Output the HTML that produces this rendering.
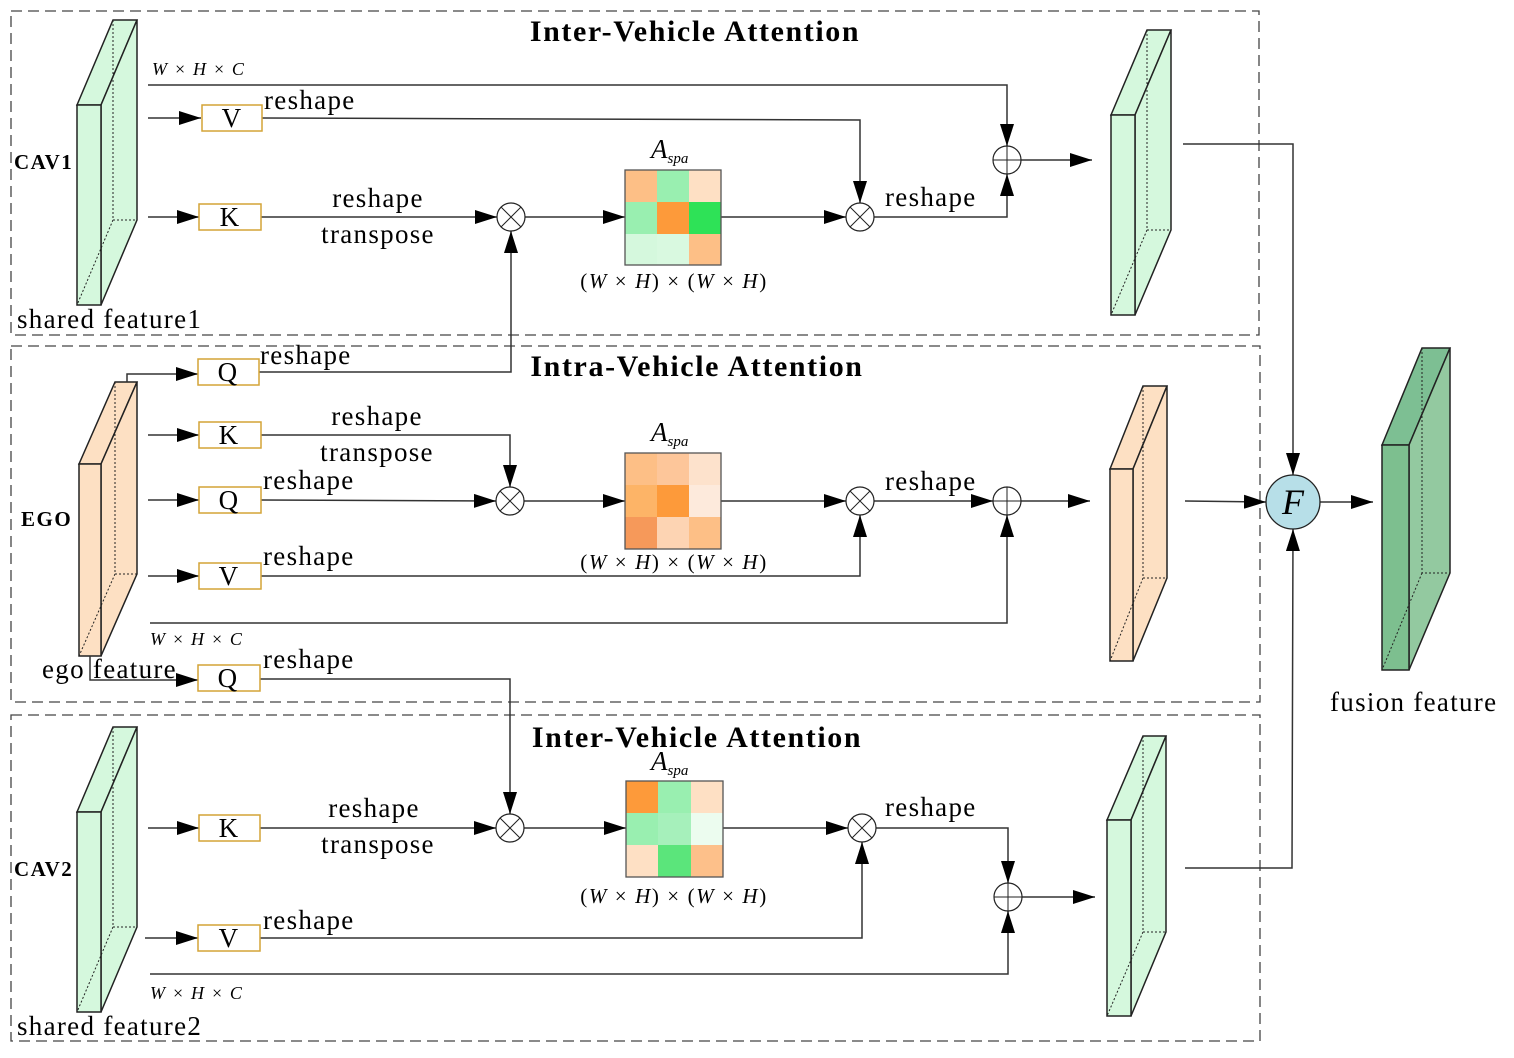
<!DOCTYPE html>
<html><head><meta charset="utf-8"><style>
html,body{margin:0;padding:0;background:#fff;}
svg{display:block;}
text{font-family:"Liberation Serif",serif;fill:#000;}
.t{font-size:27px;letter-spacing:1.3px;}
.b{font-size:30px;font-weight:bold;letter-spacing:1.6px;}
.m{font-size:18px;font-style:italic;letter-spacing:1.2px;}
.ln{stroke:#333;stroke-width:1.5;fill:none;}
.box{fill:#fff;stroke:#d4a437;stroke-width:1.5;}
.dsh{fill:none;stroke:#444;stroke-width:1.3;stroke-dasharray:11,6;}
.op{fill:#fff;stroke:#222;stroke-width:1.2;}
.dim{font-size:21px;letter-spacing:1.6px;}
</style></head><body>
<svg width="1514" height="1058" viewBox="0 0 1514 1058" xmlns="http://www.w3.org/2000/svg">
<defs>
<marker id="a" markerUnits="userSpaceOnUse" markerWidth="22" markerHeight="14" refX="22" refY="7" orient="auto"><path d="M0,0 L22,7 L0,14 Z" fill="#000"/></marker>
</defs>

<rect class="dsh" x="11" y="11" width="1248" height="324"/>
<rect class="dsh" x="11" y="346" width="1249" height="356"/>
<rect class="dsh" x="11" y="715" width="1249" height="326"/>

<text class="b" x="695" y="41" text-anchor="middle">Inter-Vehicle Attention</text>
<text class="b" x="697" y="376" text-anchor="middle">Intra-Vehicle Attention</text>
<text class="b" x="697" y="747" text-anchor="middle">Inter-Vehicle Attention</text>

<g stroke="#222" stroke-width="1.5">
<polygon points="77,105 113,20 137,20 101,105" fill="#d5f8dd"/>
<polygon points="101,105 137,20 137,220 101,305" fill="#d5f8dd"/>
<rect x="77" y="105" width="24" height="200" fill="#d5f8dd"/>
<polygon points="1111,115 1147,30 1171,30 1135,115" fill="#d5f8dd"/>
<polygon points="1135,115 1171,30 1171,230 1135,315" fill="#d5f8dd"/>
<rect x="1111" y="115" width="24" height="200" fill="#d5f8dd"/>
<polygon points="79,464 115,382 137,382 101,464" fill="#fde0c3"/>
<polygon points="101,464 137,382 137,574 101,656" fill="#fde0c3"/>
<rect x="79" y="464" width="22" height="192" fill="#fde0c3"/>
<polygon points="1110,469 1143,386 1167,386 1133,469" fill="#fde0c3"/>
<polygon points="1133,469 1167,386 1167,578 1133,661" fill="#fde0c3"/>
<rect x="1110" y="469" width="23" height="192" fill="#fde0c3"/>
<polygon points="77,812 113,727 137,727 101,812" fill="#d5f8dd"/>
<polygon points="101,812 137,727 137,927 101,1012" fill="#d5f8dd"/>
<rect x="77" y="812" width="24" height="200" fill="#d5f8dd"/>
<polygon points="1107,820 1143,736 1166,736 1131,820" fill="#d5f8dd"/>
<polygon points="1131,820 1166,736 1166,932 1131,1016" fill="#d5f8dd"/>
<rect x="1107" y="820" width="24" height="196" fill="#d5f8dd"/>
<polygon points="1382,445 1422,348 1450,348 1409,445" fill="#7dbf93"/>
<polygon points="1409,445 1450,348 1450,573 1409,670" fill="#93c9a0"/>
<rect x="1382" y="445" width="27" height="225" fill="#7dbf8f"/>
</g>
<g stroke="#222" stroke-width="1" stroke-dasharray="2,2" fill="none">
<path d="M113,20 V220 H137 M113,220 L77,305"/>
<path d="M1147,30 V230 H1171 M1147,230 L1111,315"/>
<path d="M115,382 V574 H137 M115,574 L79,656"/>
<path d="M1143,386 V578 H1167 M1143,578 L1110,661"/>
<path d="M113,727 V927 H137 M113,927 L77,1012"/>
<path d="M1143,736 V932 H1166 M1143,932 L1107,1016"/>
<path d="M1422,348 V573 H1450 M1422,573 L1382,670"/>
</g>

<path class="ln" d="M148,85 H1007 V146" marker-end="url(#a)"/>
<path class="ln" d="M148,118 H201" marker-end="url(#a)"/>
<path class="ln" d="M262,118 L860,120 V203" marker-end="url(#a)"/>
<path class="ln" d="M148,217 H199" marker-end="url(#a)"/>
<path class="ln" d="M261,217 H497" marker-end="url(#a)"/>
<path class="ln" d="M525,217 H625" marker-end="url(#a)"/>
<path class="ln" d="M721,217 H846" marker-end="url(#a)"/>
<path class="ln" d="M874,217 H1007 V174" marker-end="url(#a)"/>
<path class="ln" d="M1021,160 H1092" marker-end="url(#a)"/>
<path class="ln" d="M1183,144 H1293 V475" marker-end="url(#a)"/>
<path class="ln" d="M127,382 V374 H198" marker-end="url(#a)"/>
<path class="ln" d="M259,372 H511 V231" marker-end="url(#a)"/>

<path class="ln" d="M148,435 H199" marker-end="url(#a)"/>
<path class="ln" d="M261,435 H510 V487" marker-end="url(#a)"/>
<path class="ln" d="M148,500 H199" marker-end="url(#a)"/>
<path class="ln" d="M261,500 L496,501" marker-end="url(#a)"/>
<path class="ln" d="M524,501 H625" marker-end="url(#a)"/>
<path class="ln" d="M721,501 H846" marker-end="url(#a)"/>
<path class="ln" d="M874,501 H993" marker-end="url(#a)"/>
<path class="ln" d="M1021,501 H1090" marker-end="url(#a)"/>
<path class="ln" d="M148,576 H199" marker-end="url(#a)"/>
<path class="ln" d="M261,576 H860 V515" marker-end="url(#a)"/>
<path class="ln" d="M150,623 H1007 V515" marker-end="url(#a)"/>
<path class="ln" d="M1185,501 L1266,502" marker-end="url(#a)"/>
<path class="ln" d="M1320,502 H1373" marker-end="url(#a)"/>

<path class="ln" d="M90,656 V680 H198" marker-end="url(#a)"/>
<path class="ln" d="M260,679 H510 V814" marker-end="url(#a)"/>
<path class="ln" d="M148,828 H199" marker-end="url(#a)"/>
<path class="ln" d="M260,828 H496" marker-end="url(#a)"/>
<path class="ln" d="M524,828 H626" marker-end="url(#a)"/>
<path class="ln" d="M723,828 H848" marker-end="url(#a)"/>
<path class="ln" d="M876,828 H1008 V883" marker-end="url(#a)"/>
<path class="ln" d="M145,938 H198" marker-end="url(#a)"/>
<path class="ln" d="M260,938 H862 V842" marker-end="url(#a)"/>
<path class="ln" d="M150,974 H1008 V911" marker-end="url(#a)"/>
<path class="ln" d="M1022,897 H1095" marker-end="url(#a)"/>
<path class="ln" d="M1185,868 H1292 L1293,529" marker-end="url(#a)"/>

<g>
<rect class="box" x="202" y="105" width="60" height="26"/><text class="t" x="232" y="127" text-anchor="middle">V</text>
<rect class="box" x="199" y="204" width="62" height="26"/><text class="t" x="230" y="226" text-anchor="middle">K</text>
<rect class="box" x="198" y="359" width="61" height="26"/><text class="t" x="228" y="381" text-anchor="middle">Q</text>
<rect class="box" x="199" y="422" width="62" height="26"/><text class="t" x="229" y="444" text-anchor="middle">K</text>
<rect class="box" x="199" y="487" width="62" height="26"/><text class="t" x="229" y="509" text-anchor="middle">Q</text>
<rect class="box" x="199" y="563" width="62" height="26"/><text class="t" x="229" y="585" text-anchor="middle">V</text>
<rect class="box" x="198" y="665" width="62" height="26"/><text class="t" x="228" y="687" text-anchor="middle">Q</text>
<rect class="box" x="199" y="815" width="61" height="26"/><text class="t" x="229" y="837" text-anchor="middle">K</text>
<rect class="box" x="198" y="925" width="62" height="26"/><text class="t" x="229" y="947" text-anchor="middle">V</text>
</g>

<g>
<circle class="op" cx="511" cy="217" r="14"/><path d="M501,207 L521,227 M521,207 L501,227" stroke="#222"/>
<circle class="op" cx="860" cy="217" r="14"/><path d="M850,207 L870,227 M870,207 L850,227" stroke="#222"/>
<circle class="op" cx="1007" cy="160" r="14"/><path d="M993,160 H1021 M1007,146 V174" stroke="#222"/>
<circle class="op" cx="510" cy="501" r="14"/><path d="M500,491 L520,511 M520,491 L500,511" stroke="#222"/>
<circle class="op" cx="860" cy="501" r="14"/><path d="M850,491 L870,511 M870,491 L850,511" stroke="#222"/>
<circle class="op" cx="1007" cy="501" r="14"/><path d="M993,501 H1021 M1007,487 V515" stroke="#222"/>
<circle class="op" cx="510" cy="828" r="14"/><path d="M500,818 L520,838 M520,818 L500,838" stroke="#222"/>
<circle class="op" cx="862" cy="828" r="14"/><path d="M852,818 L872,838 M872,818 L852,838" stroke="#222"/>
<circle class="op" cx="1008" cy="897" r="14"/><path d="M994,897 H1022 M1008,883 V911" stroke="#222"/>
<circle cx="1293" cy="502" r="27" fill="#b7dfe8" stroke="#222" stroke-width="1.3"/>
<text x="1293" y="514" text-anchor="middle" style="font-size:36px;font-style:italic">F</text>
</g>

<g stroke="none">
<rect x="625" y="170" width="32" height="32" fill="#fdbf86"/><rect x="657" y="170" width="32" height="32" fill="#99efb0"/><rect x="689" y="170" width="32" height="32" fill="#fee0c4"/>
<rect x="625" y="202" width="32" height="32" fill="#99efb0"/><rect x="657" y="202" width="32" height="32" fill="#fd9a3a"/><rect x="689" y="202" width="32" height="32" fill="#2ee257"/>
<rect x="625" y="234" width="32" height="31" fill="#d5f8dd"/><rect x="657" y="234" width="32" height="31" fill="#d9f9e0"/><rect x="689" y="234" width="32" height="31" fill="#fdbf86"/>

<rect x="625" y="453" width="32" height="32" fill="#fdbf86"/><rect x="657" y="453" width="32" height="32" fill="#fdc69a"/><rect x="689" y="453" width="32" height="32" fill="#fde2cc"/>
<rect x="625" y="485" width="32" height="32" fill="#fdb467"/><rect x="657" y="485" width="32" height="32" fill="#fd9a3a"/><rect x="689" y="485" width="32" height="32" fill="#fdeadc"/>
<rect x="625" y="517" width="32" height="32" fill="#f6995a"/><rect x="657" y="517" width="32" height="32" fill="#fdd4b3"/><rect x="689" y="517" width="32" height="32" fill="#fdbf86"/>

<rect x="626" y="781" width="32" height="32" fill="#fd9a3a"/><rect x="658" y="781" width="33" height="32" fill="#99efb0"/><rect x="691" y="781" width="32" height="32" fill="#fee0c4"/>
<rect x="626" y="813" width="32" height="32" fill="#99efb0"/><rect x="658" y="813" width="33" height="32" fill="#a6f0bb"/><rect x="691" y="813" width="32" height="32" fill="#ecfcef"/>
<rect x="626" y="845" width="32" height="32" fill="#fee0c4"/><rect x="658" y="845" width="33" height="32" fill="#5be57b"/><rect x="691" y="845" width="32" height="32" fill="#fdc08a"/>
</g>
<g fill="none" stroke="#555" stroke-width="1.3">
<rect x="625" y="170" width="96" height="95"/>
<rect x="625" y="453" width="96" height="96"/>
<rect x="626" y="781" width="97" height="96"/>
</g>

<text x="651" y="158" style="font-size:27px;font-style:italic">A<tspan style="font-size:15px" dy="5">spa</tspan></text>
<text x="651" y="441" style="font-size:27px;font-style:italic">A<tspan style="font-size:15px" dy="5">spa</tspan></text>
<text x="651" y="770" style="font-size:27px;font-style:italic">A<tspan style="font-size:15px" dy="5">spa</tspan></text>
<text class="dim" x="674" y="288" text-anchor="middle">(<tspan font-style="italic">W</tspan> × <tspan font-style="italic">H</tspan>) × (<tspan font-style="italic">W</tspan> × <tspan font-style="italic">H</tspan>)</text>
<text class="dim" x="674" y="569" text-anchor="middle">(<tspan font-style="italic">W</tspan> × <tspan font-style="italic">H</tspan>) × (<tspan font-style="italic">W</tspan> × <tspan font-style="italic">H</tspan>)</text>
<text class="dim" x="674" y="903" text-anchor="middle">(<tspan font-style="italic">W</tspan> × <tspan font-style="italic">H</tspan>) × (<tspan font-style="italic">W</tspan> × <tspan font-style="italic">H</tspan>)</text>

<text class="m" x="152" y="75">W × H × C</text>
<text class="m" x="150" y="645">W × H × C</text>
<text class="m" x="150" y="999">W × H × C</text>

<text class="t" x="264" y="109">reshape</text>
<text class="t" x="378" y="207" text-anchor="middle">reshape</text>
<text class="t" x="378" y="243" text-anchor="middle">transpose</text>
<text class="t" x="885" y="206">reshape</text>
<text class="t" x="260" y="364">reshape</text>
<text class="t" x="377" y="425" text-anchor="middle">reshape</text>
<text class="t" x="377" y="461" text-anchor="middle">transpose</text>
<text class="t" x="263" y="489">reshape</text>
<text class="t" x="885" y="490">reshape</text>
<text class="t" x="263" y="565">reshape</text>
<text class="t" x="263" y="668">reshape</text>
<text class="t" x="374" y="817" text-anchor="middle">reshape</text>
<text class="t" x="378" y="853" text-anchor="middle">transpose</text>
<text class="t" x="885" y="816">reshape</text>
<text class="t" x="263" y="929">reshape</text>

<text x="14" y="169" style="font-size:21px;font-weight:bold;letter-spacing:1.5px">CAV1</text>
<text x="21" y="526" style="font-size:21px;font-weight:bold;letter-spacing:1.5px">EGO</text>
<text x="14" y="876" style="font-size:21px;font-weight:bold;letter-spacing:1.5px">CAV2</text>
<text class="t" x="17" y="328">shared feature1</text>
<text class="t" x="42" y="678">ego feature</text>
<text class="t" x="17" y="1035">shared feature2</text>
<text class="t" x="1330" y="711">fusion feature</text>
</svg>
</body></html>
